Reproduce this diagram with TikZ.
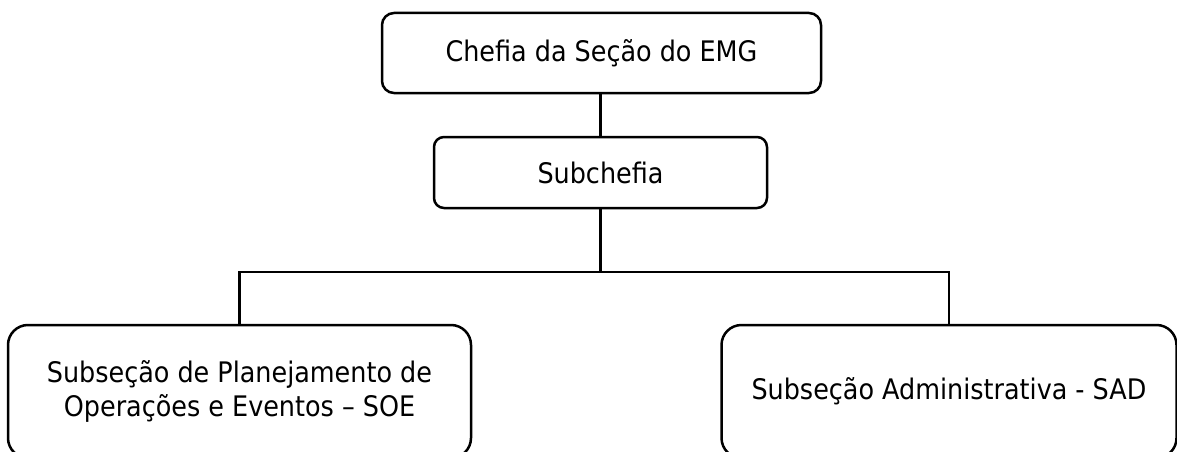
\documentclass[tikz,border=0pt]{standalone}
\usepackage{fontspec}
\setmainfont{DejaVu Sans Condensed}
\begin{document}
\begin{tikzpicture}[x=1pt,y=-1pt,
  box/.style={draw=black, line width=2.5pt, fill=white, inner sep=0pt, align=center,
    font=\fontsize{28.3}{34}\selectfont},
  link/.style={draw=black, line width=2.5pt}]
\useasboundingbox (0,0) rectangle (1177,452);
\clip (0,0) rectangle (1177,452);
\fill[white] (0,0) rectangle (1177,452);
\node[box, rounded corners=12pt, minimum width=439pt, minimum height=80pt] (top) at (601.5,53) {Chefia da Seção do EMG};
\node[box, rounded corners=10pt, minimum width=333pt, minimum height=71pt] (sub) at (600.5,172.5) {Subchefia};
\node[box, rounded corners=20pt, minimum width=463pt, minimum height=133pt] (left) at (239.5,391.5) {Subseção de Planejamento de\\Operações e Eventos – SOE};
\node[box, rounded corners=20pt, minimum width=455pt, minimum height=133pt] (right) at (949,391.5) {Subseção Administrativa - SAD};
\coordinate (hub) at (600.5,272);
\draw[link] (sub.north |- top.south) -- (sub.north);
\draw[link] (sub.south) -- (hub);
\draw[link] (left.north) |- (hub) -| (right.north);
\end{tikzpicture}
\end{document}
